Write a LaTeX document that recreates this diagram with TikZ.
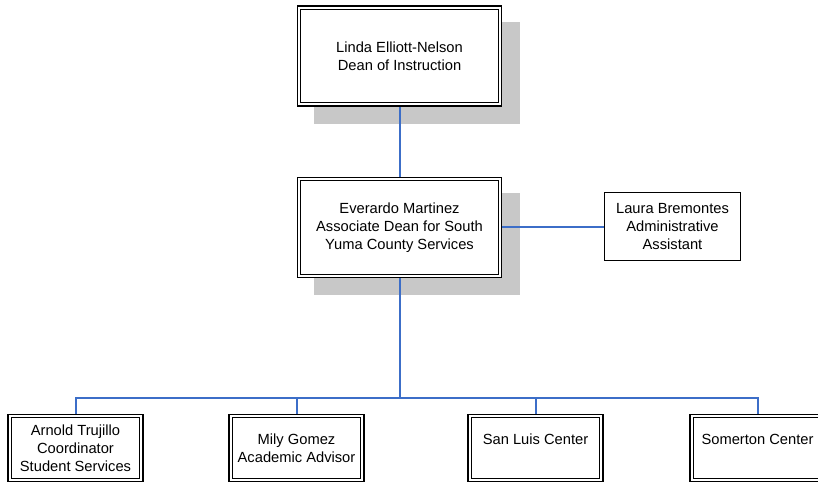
\documentclass[tikz,border=0pt]{standalone}
\usepackage{fontspec}
\setmainfont{Liberation Sans}
\definecolor{linkblue}{RGB}{60,110,200}
\definecolor{shadowgray}{RGB}{200,200,200}
\begin{document}
\begin{tikzpicture}[x=1bp,y=-1bp]
\tikzset{
  connector/.style={draw=linkblue, line width=2bp},
  shadowbox/.style={fill=shadowgray, draw=none},
  card/.style={draw=black, fill=white, align=center, inner sep=0pt,
    font=\fontsize{14.7bp}{18bp}\selectfont},
  bigcard/.style={card, line width=1.6bp, minimum width=204bp, minimum height=100bp},
  smallcard/.style={card, line width=1.6bp, minimum width=135bp, minimum height=67bp},
  plaincard/.style={card, line width=1bp, minimum width=136bp, minimum height=68bp}
}
\useasboundingbox (0,0) rectangle (818,484);
\clip (0,0) rectangle (818,484);

% drop shadows behind the two upper cards
\fill[shadowbox] (314,22) rectangle (520,124);
\fill[shadowbox] (314,193) rectangle (520,295);

% junction of the lower branch
\coordinate (bus) at (399.5,397.5);

% cards
\node[bigcard] (dean) at (399.5,56) {Linda Elliott-Nelson\\Dean of Instruction};
\node[bigcard] (assoc) at (399.5,227.5) {Everardo Martinez\\Associate Dean for South\\Yuma County Services};
\node[plaincard] (admin) at (672.5,227) {Laura Bremontes\\Administrative\\Assistant};
\node[smallcard] (coord) at (75.5,448) {Arnold Trujillo\\Coordinator\\Student Services};
\node[smallcard] (advisor) at (296.5,448) {Mily Gomez\\Academic Advisor};
\node[smallcard] (sanluis) at (535.5,448) {San Luis Center\\\mbox{}};
\node[smallcard] (somerton) at (757.5,448) {Somerton Center\\\mbox{}};

% inner rule of the double-framed cards
\foreach \n in {dean,assoc,coord,advisor,sanluis,somerton}
  \draw[line width=0.8bp] ([shift={(4bp,-4bp)}]\n.north west) rectangle ([shift={(-4bp,4bp)}]\n.south east);

% connectors
\path[connector] (dean.south) -- (assoc.north);
\path[connector] (assoc.east) -- (admin.west |- assoc.east);
\path[connector] (assoc.south) -- (bus);
\path[connector] (coord.north) |- (bus);
\path[connector] (advisor.north) |- (bus);
\path[connector] (sanluis.north) |- (bus);
\path[connector] (somerton.north) |- (bus);
\end{tikzpicture}
\end{document}
